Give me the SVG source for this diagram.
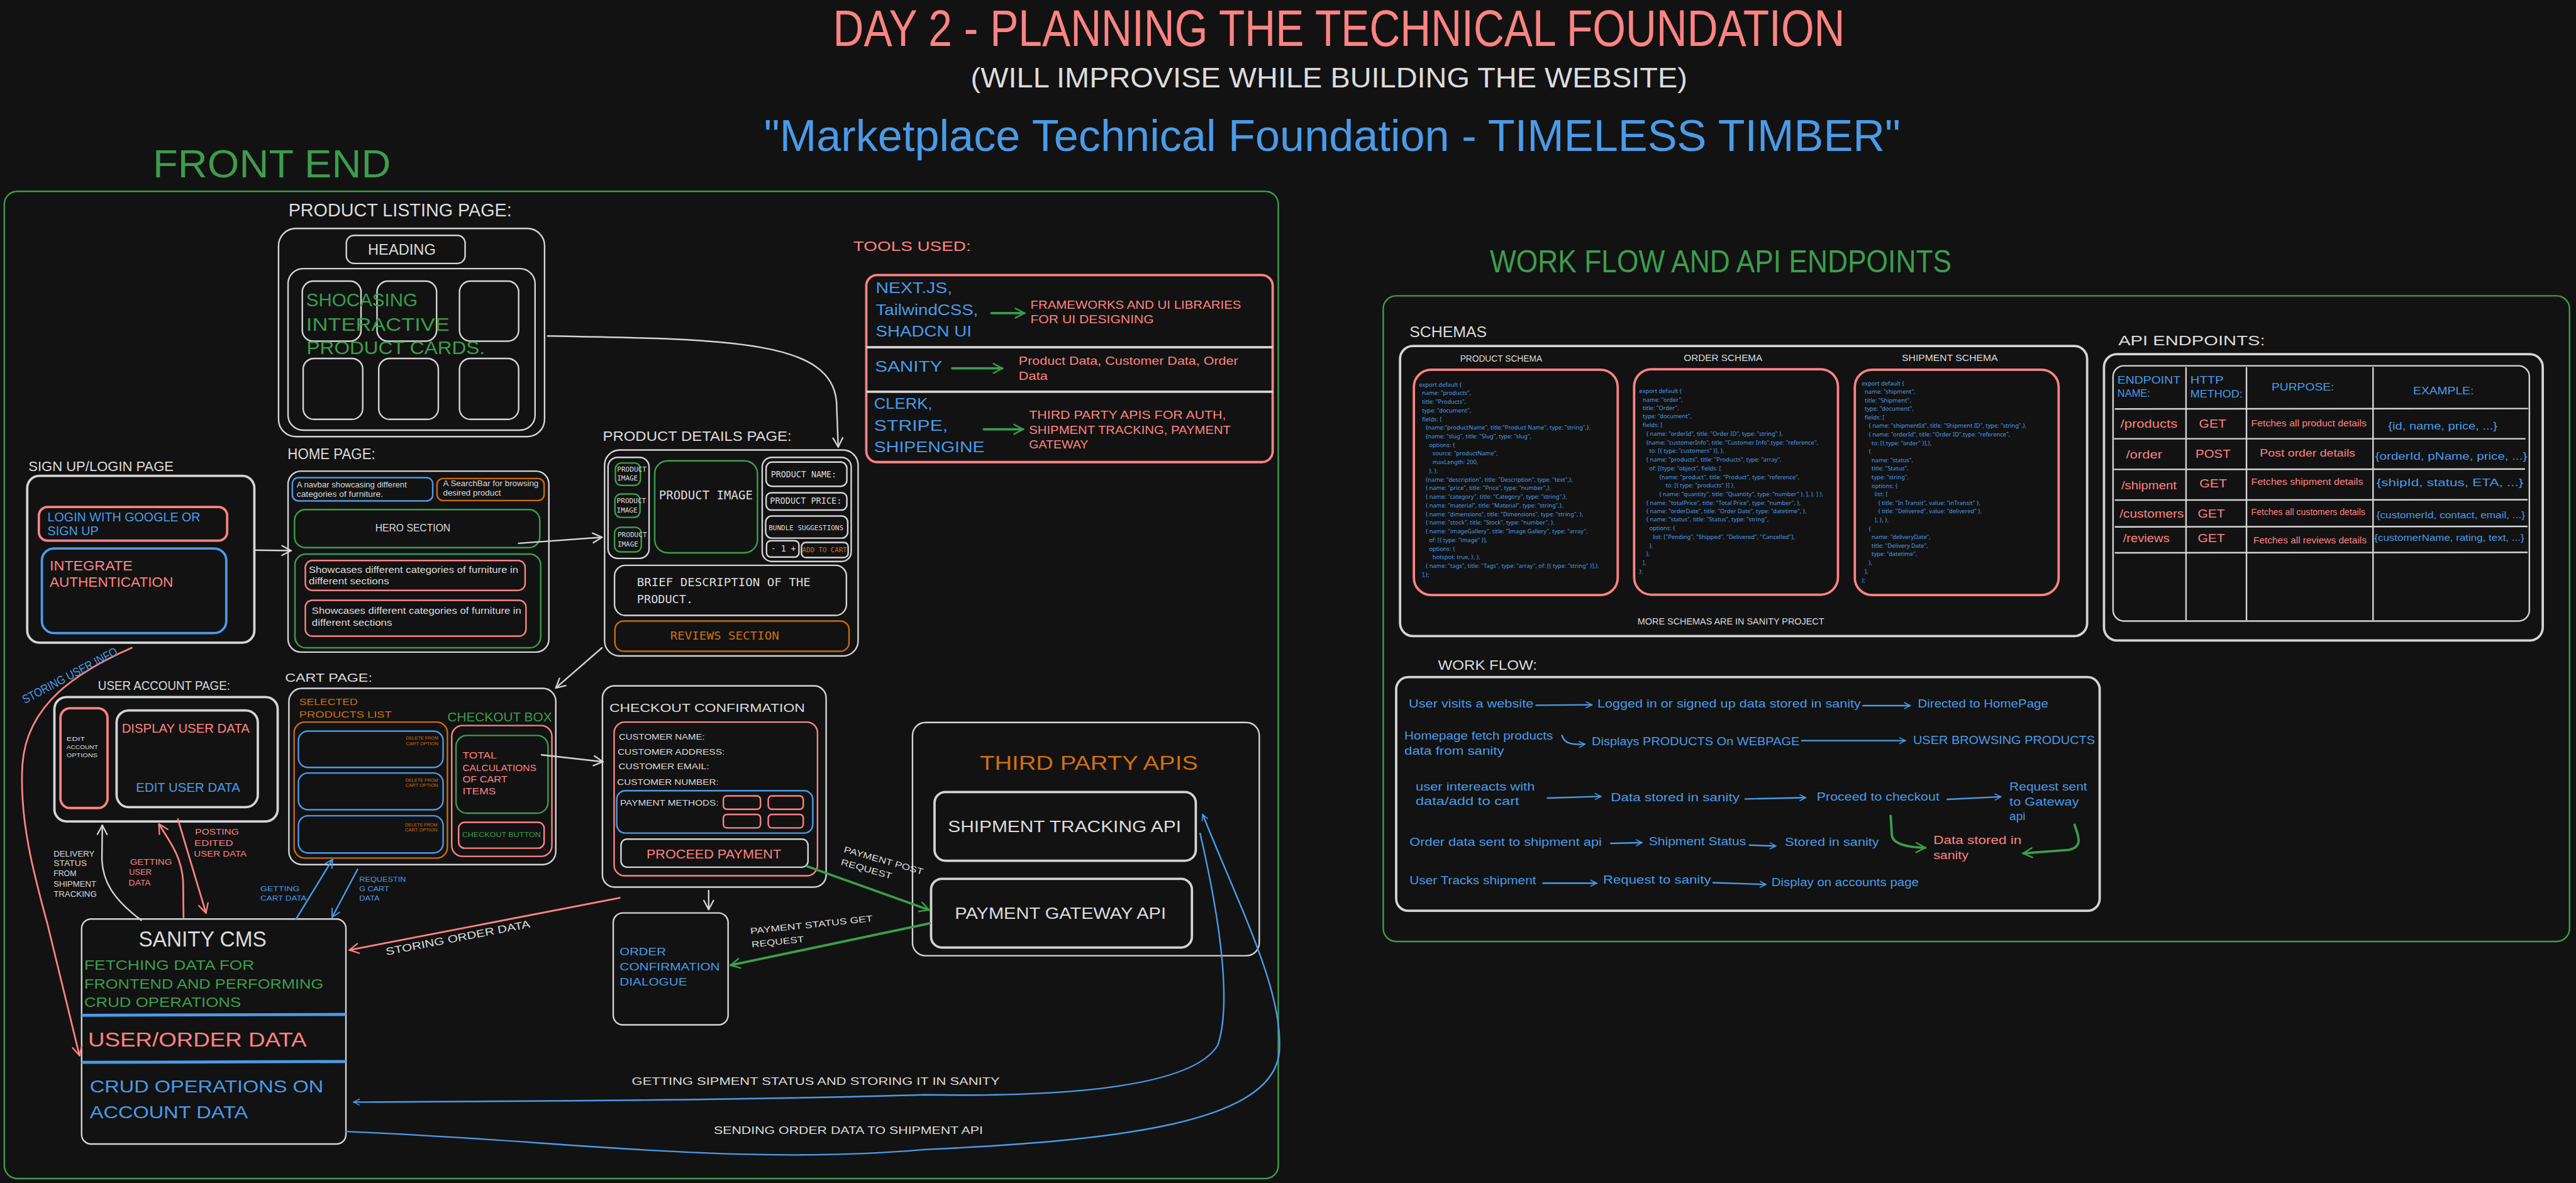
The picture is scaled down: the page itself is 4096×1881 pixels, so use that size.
<svg xmlns="http://www.w3.org/2000/svg" width="4096" height="1881" viewBox="0 0 4096 1881">
<style>
text { font-family: "Liberation Sans", "DejaVu Sans", sans-serif; }
.mo { font-family: "DejaVu Sans Mono", "Liberation Mono", monospace; }
.cd { font-family: "Noto Sans", "Liberation Sans", sans-serif; font-size: 13.5px; fill: #4a9be8; }
.w { fill: #dcdcdc; } .r { fill: #ff8383; } .b { fill: #4a9be8; } .g { fill: #3c9d4d; } .o { fill: #d0700f; }
.sw { fill: none; stroke: #d4d4d4; stroke-width: 3.5; }
.sr { fill: none; stroke: #ff8383; stroke-width: 3.5; }
.sb { fill: none; stroke: #4a9be8; stroke-width: 3.5; }
.sg { fill: none; stroke: #3c9d4d; stroke-width: 3.5; }
.so { fill: none; stroke: #cc6a0e; stroke-width: 3.5; }
.k { stroke-width: 5.5; }
.cw { fill: none; stroke: #d4d4d4; stroke-width: 3.5; stroke-linecap: round; stroke-linejoin: round; }
.cr { fill: none; stroke: #ff8383; stroke-width: 4; stroke-linecap: round; stroke-linejoin: round; }
.cb { fill: none; stroke: #4a9be8; stroke-width: 3.5; stroke-linecap: round; stroke-linejoin: round; }
.cg { fill: none; stroke: #3c9d4d; stroke-width: 5.5; stroke-linecap: round; stroke-linejoin: round; }
</style>
<defs>
<marker id="mw" viewBox="0 0 10 10" refX="8.5" refY="5" markerWidth="8" markerHeight="8" orient="auto" markerUnits="strokeWidth"><path d="M1,1 L8.5,5 L1,9" fill="none" stroke="#d4d4d4" stroke-width="1.2" stroke-linecap="round" stroke-linejoin="round"/></marker>
<marker id="mr" viewBox="0 0 10 10" refX="8.5" refY="5" markerWidth="7" markerHeight="7" orient="auto" markerUnits="strokeWidth"><path d="M1,1 L8.5,5 L1,9" fill="none" stroke="#ff8383" stroke-width="1.2" stroke-linecap="round" stroke-linejoin="round"/></marker>
<marker id="mb" viewBox="0 0 10 10" refX="8.5" refY="5" markerWidth="7" markerHeight="7" orient="auto" markerUnits="strokeWidth"><path d="M1,1 L8.5,5 L1,9" fill="none" stroke="#4a9be8" stroke-width="1.2" stroke-linecap="round" stroke-linejoin="round"/></marker>
<marker id="mbt" viewBox="0 0 10 10" refX="8.5" refY="5" markerWidth="5" markerHeight="5" orient="auto" markerUnits="strokeWidth"><path d="M1,1 L8.5,5 L1,9" fill="none" stroke="#4a9be8" stroke-width="1.3" stroke-linecap="round" stroke-linejoin="round"/></marker>
<marker id="mg" viewBox="0 0 10 10" refX="8.5" refY="5" markerWidth="5" markerHeight="5" orient="auto" markerUnits="strokeWidth"><path d="M1,1 L8.5,5 L1,9" fill="none" stroke="#3c9d4d" stroke-width="1.3" stroke-linecap="round" stroke-linejoin="round"/></marker>
</defs>
<rect x="0" y="0" width="4096" height="1881" fill="#121212"/>
<g transform="scale(0.686672)">

<g id="header">
<text class="r" x="1929" y="106" font-size="118" textLength="2343" lengthAdjust="spacingAndGlyphs">DAY 2 - PLANNING THE TECHNICAL FOUNDATION</text>
<text class="w" x="2248" y="202" font-size="64" textLength="1659" lengthAdjust="spacingAndGlyphs">(WILL IMPROVISE WHILE BUILDING THE WEBSITE)</text>
<text class="b" x="1769" y="350" font-size="102" textLength="2632" lengthAdjust="spacingAndGlyphs">"Marketplace Technical Foundation - TIMELESS TIMBER"</text>
</g>

<g id="front-end">
<rect class="sg" x="10" y="443" width="2950" height="2286" rx="30" stroke-width="3"/>
<text class="g" x="354" y="411" font-size="92" textLength="551" lengthAdjust="spacingAndGlyphs">FRONT END</text>
</g>

<g id="product-listing-page">
<text class="w" x="668" y="501" font-size="42" textLength="517" lengthAdjust="spacingAndGlyphs">PRODUCT LISTING PAGE:</text>
<rect class="sw" x="645" y="529" width="616" height="482" rx="40"/>
<rect class="sw" x="802" y="545" width="275" height="65" rx="18"/>
<text class="w" x="852" y="590" font-size="34" textLength="157" lengthAdjust="spacingAndGlyphs">HEADING</text>
<rect class="sw" x="667" y="622" width="572" height="374" rx="35"/>
<rect class="sw" x="700" y="651" width="136" height="139" rx="25"/>
<rect class="sw" x="873" y="651" width="138" height="139" rx="25"/>
<rect class="sw" x="1064" y="651" width="137" height="139" rx="25"/>
<rect class="sw" x="702" y="830" width="138" height="141" rx="25"/>
<rect class="sw" x="877" y="830" width="138" height="141" rx="25"/>
<rect class="sw" x="1064" y="830" width="137" height="141" rx="25"/>
<text class="g" x="709" y="709" font-size="44" textLength="258" lengthAdjust="spacingAndGlyphs">SHOCASING</text>
<text class="g" x="709" y="766" font-size="44" textLength="332" lengthAdjust="spacingAndGlyphs">INTERACTIVE</text>
<text class="g" x="710" y="820" font-size="44" textLength="413" lengthAdjust="spacingAndGlyphs">PRODUCT CARDS.</text>
</g>

<g id="home-page">
<text class="w" x="666" y="1063" font-size="36" textLength="203" lengthAdjust="spacingAndGlyphs">HOME PAGE:</text>
<rect class="sw" x="667" y="1091" width="604" height="419" rx="30"/>
<rect class="sb" x="677" y="1106" width="325" height="54" rx="14"/>
<text class="w" x="687" y="1128" font-size="19" textLength="255" lengthAdjust="spacingAndGlyphs">A navbar showcasing different</text>
<text class="w" x="687" y="1150" font-size="19" textLength="200" lengthAdjust="spacingAndGlyphs">categories of furniture.</text>
<rect class="so" x="1012" y="1108" width="248" height="51" rx="14"/>
<text class="w" x="1026" y="1126" font-size="19" textLength="221" lengthAdjust="spacingAndGlyphs">A SearchBar for browsing</text>
<text class="w" x="1026" y="1148" font-size="19" textLength="134" lengthAdjust="spacingAndGlyphs">desired product</text>
<rect class="sg" x="682" y="1180" width="568" height="88" rx="25"/>
<text class="w" x="869" y="1230" font-size="23" textLength="174" lengthAdjust="spacingAndGlyphs">HERO SECTION</text>
<rect class="sg" x="683" y="1283" width="569" height="217" rx="25"/>
<rect class="sr" x="707" y="1298" width="509" height="69" rx="16"/>
<text class="w" x="715" y="1326" font-size="22" textLength="485" lengthAdjust="spacingAndGlyphs">Showcases different categories of furniture in</text>
<text class="w" x="715" y="1353" font-size="22" textLength="186" lengthAdjust="spacingAndGlyphs">different sections</text>
<rect class="sr" x="707" y="1390" width="511" height="83" rx="16"/>
<text class="w" x="722" y="1422" font-size="22" textLength="485" lengthAdjust="spacingAndGlyphs">Showcases different categories of furniture in</text>
<text class="w" x="722" y="1449" font-size="22" textLength="186" lengthAdjust="spacingAndGlyphs">different sections</text>
</g>

<g id="product-details-page">
<text class="w" x="1396" y="1021" font-size="32" textLength="437" lengthAdjust="spacingAndGlyphs">PRODUCT DETAILS PAGE:</text>
<rect class="sw" x="1400" y="1042" width="587" height="477" rx="35"/>
<rect class="sw" x="1408" y="1059" width="95" height="234" rx="22"/>
<rect class="sg" x="1425" y="1072" width="58" height="52" rx="14"/>
<rect class="sg" x="1424" y="1144" width="58" height="54" rx="14"/>
<rect class="sg" x="1423" y="1221" width="62" height="57" rx="14"/>
<text class="w mo" x="1429" y="1092" font-size="16" textLength="68" lengthAdjust="spacingAndGlyphs">PRODUCT</text>
<text class="w mo" x="1429" y="1113" font-size="16" textLength="48" lengthAdjust="spacingAndGlyphs">IMAGE</text>
<text class="w mo" x="1428" y="1165" font-size="16" textLength="68" lengthAdjust="spacingAndGlyphs">PRODUCT</text>
<text class="w mo" x="1428" y="1187" font-size="16" textLength="48" lengthAdjust="spacingAndGlyphs">IMAGE</text>
<text class="w mo" x="1430" y="1243" font-size="16" textLength="68" lengthAdjust="spacingAndGlyphs">PRODUCT</text>
<text class="w mo" x="1430" y="1265" font-size="16" textLength="48" lengthAdjust="spacingAndGlyphs">IMAGE</text>
<rect class="sg" x="1516" y="1067" width="238" height="213" rx="30"/>
<text class="w mo" x="1526" y="1156" font-size="27" textLength="217" lengthAdjust="spacingAndGlyphs">PRODUCT IMAGE</text>
<rect class="sw" x="1765" y="1059" width="206" height="241" rx="22"/>
<rect class="sw" x="1774" y="1070" width="187" height="56" rx="14"/>
<text class="w mo" x="1785" y="1105" font-size="20" textLength="152" lengthAdjust="spacingAndGlyphs">PRODUCT NAME:</text>
<rect class="sw" x="1774" y="1141" width="187" height="40" rx="12"/>
<text class="w mo" x="1783" y="1167" font-size="20" textLength="166" lengthAdjust="spacingAndGlyphs">PRODUCT PRICE:</text>
<rect class="sw" x="1773" y="1195" width="190" height="51" rx="14"/>
<text class="w mo" x="1780" y="1228" font-size="16" textLength="173" lengthAdjust="spacingAndGlyphs">BUNDLE SUGGESTIONS</text>
<rect class="sw" x="1775" y="1252" width="75" height="38" rx="10"/>
<text class="w mo" x="1785" y="1277" font-size="20" textLength="58" lengthAdjust="spacingAndGlyphs">- 1 +</text>
<rect class="sw" x="1856" y="1256" width="108" height="35" rx="10"/>
<text class="o mo" x="1858" y="1278" font-size="16" textLength="103" lengthAdjust="spacingAndGlyphs">ADD TO CART</text>
<rect class="sw" x="1423" y="1309" width="537" height="116" rx="25"/>
<text class="w mo" x="1475" y="1357" font-size="26" textLength="402" lengthAdjust="spacingAndGlyphs">BRIEF DESCRIPTION OF THE</text>
<text class="w mo" x="1475" y="1396" font-size="26" textLength="130" lengthAdjust="spacingAndGlyphs">PRODUCT.</text>
<rect class="so" x="1424" y="1438" width="542" height="70" rx="20"/>
<text class="o mo" x="1552" y="1481" font-size="26" textLength="252" lengthAdjust="spacingAndGlyphs">REVIEWS SECTION</text>
</g>

<g id="tools-used">
<text class="r" x="1976" y="581" font-size="32" textLength="272" lengthAdjust="spacingAndGlyphs">TOOLS USED:</text>
<rect class="sr k" x="2006" y="637" width="941" height="433" rx="25"/>
<line class="sw k" x1="2006" y1="804" x2="2947" y2="804"/>
<line class="sw k" x1="2006" y1="907" x2="2947" y2="907"/>
<text class="b" x="2028" y="679" font-size="34" textLength="177" lengthAdjust="spacingAndGlyphs">NEXT.JS,</text>
<text class="b" x="2028" y="729" font-size="34" textLength="237" lengthAdjust="spacingAndGlyphs">TailwindCSS,</text>
<text class="b" x="2028" y="779" font-size="34" textLength="222" lengthAdjust="spacingAndGlyphs">SHADCN UI</text>
<text class="r" x="2386" y="715" font-size="28" textLength="488" lengthAdjust="spacingAndGlyphs">FRAMEWORKS AND UI LIBRARIES</text>
<text class="r" x="2386" y="748" font-size="28" textLength="286" lengthAdjust="spacingAndGlyphs">FOR UI DESIGNING</text>
<text class="b" x="2026" y="861" font-size="34" textLength="156" lengthAdjust="spacingAndGlyphs">SANITY</text>
<text class="r" x="2359" y="845" font-size="27" textLength="508" lengthAdjust="spacingAndGlyphs">Product Data, Customer Data, Order</text>
<text class="r" x="2359" y="879" font-size="27" textLength="67" lengthAdjust="spacingAndGlyphs">Data</text>
<text class="b" x="2024" y="947" font-size="34" textLength="135" lengthAdjust="spacingAndGlyphs">CLERK,</text>
<text class="b" x="2024" y="997" font-size="34" textLength="171" lengthAdjust="spacingAndGlyphs">STRIPE,</text>
<text class="b" x="2024" y="1047" font-size="34" textLength="256" lengthAdjust="spacingAndGlyphs">SHIPENGINE</text>
<text class="r" x="2383" y="970" font-size="28" textLength="456" lengthAdjust="spacingAndGlyphs">THIRD PARTY APIS FOR AUTH,</text>
<text class="r" x="2383" y="1005" font-size="28" textLength="467" lengthAdjust="spacingAndGlyphs">SHIPMENT TRACKING, PAYMENT</text>
<text class="r" x="2383" y="1039" font-size="28" textLength="137" lengthAdjust="spacingAndGlyphs">GATEWAY</text>
</g>

<g id="sign-up-login-page">
<text class="w" x="66" y="1091" font-size="32" textLength="336" lengthAdjust="spacingAndGlyphs">SIGN UP/LOGIN PAGE</text>
<rect class="sw k" x="63" y="1102" width="526" height="386" rx="28"/>
<rect class="sr k" x="90" y="1174" width="436" height="78" rx="20"/>
<text class="b" x="110" y="1207" font-size="29" textLength="354" lengthAdjust="spacingAndGlyphs">LOGIN WITH GOOGLE OR</text>
<text class="b" x="110" y="1240" font-size="29" textLength="118" lengthAdjust="spacingAndGlyphs">SIGN UP</text>
<rect class="sb k" x="97" y="1270" width="427" height="196" rx="28"/>
<text class="r" x="115" y="1321" font-size="32" textLength="192" lengthAdjust="spacingAndGlyphs">INTEGRATE</text>
<text class="r" x="115" y="1359" font-size="32" textLength="286" lengthAdjust="spacingAndGlyphs">AUTHENTICATION</text>
</g>

<g id="user-account-page">
<text class="w" x="227" y="1597" font-size="30" textLength="306" lengthAdjust="spacingAndGlyphs">USER ACCOUNT PAGE:</text>
<rect class="sw k" x="126" y="1614" width="517" height="288" rx="28"/>
<rect class="sr k" x="140" y="1640" width="109" height="231" rx="22"/>
<text class="w" x="154" y="1716" font-size="14" textLength="43" lengthAdjust="spacingAndGlyphs">EDIT</text>
<text class="w" x="154" y="1734" font-size="14" textLength="73" lengthAdjust="spacingAndGlyphs">ACCOUNT</text>
<text class="w" x="154" y="1753" font-size="14" textLength="72" lengthAdjust="spacingAndGlyphs">OPTIONS</text>
<rect class="sw k" x="270" y="1645" width="327" height="224" rx="28"/>
<text class="r" x="282" y="1697" font-size="30" textLength="296" lengthAdjust="spacingAndGlyphs">DISPLAY USER DATA</text>
<text class="b" x="315" y="1834" font-size="30" textLength="241" lengthAdjust="spacingAndGlyphs">EDIT USER DATA</text>
</g>

<g id="cart-page">
<text class="w" x="660" y="1579" font-size="28" textLength="202" lengthAdjust="spacingAndGlyphs">CART PAGE:</text>
<rect class="sw" x="669" y="1594" width="618" height="408" rx="30"/>
<text class="o" x="693" y="1632" font-size="22" textLength="135" lengthAdjust="spacingAndGlyphs">SELECTED</text>
<text class="o" x="693" y="1662" font-size="22" textLength="214" lengthAdjust="spacingAndGlyphs">PRODUCTS LIST</text>
<rect class="so" x="681" y="1672" width="355" height="315" rx="25"/>
<rect class="sb" x="691" y="1693" width="335" height="84" rx="22"/>
<rect class="sb" x="691" y="1790" width="335" height="85" rx="22"/>
<rect class="sb" x="691" y="1889" width="335" height="86" rx="22"/>
<text class="o" x="940" y="1712" font-size="10" textLength="75" lengthAdjust="spacingAndGlyphs">DELETE FROM</text>
<text class="o" x="940" y="1725" font-size="10" textLength="75" lengthAdjust="spacingAndGlyphs">CART OPTION</text>
<text class="o" x="939" y="1810" font-size="10" textLength="75" lengthAdjust="spacingAndGlyphs">DELETE FROM</text>
<text class="o" x="939" y="1822" font-size="10" textLength="75" lengthAdjust="spacingAndGlyphs">CART OPTION</text>
<text class="o" x="938" y="1913" font-size="10" textLength="75" lengthAdjust="spacingAndGlyphs">DELETE FROM</text>
<text class="o" x="938" y="1925" font-size="10" textLength="75" lengthAdjust="spacingAndGlyphs">CART OPTION</text>
<text class="g" x="1036" y="1670" font-size="30" textLength="242" lengthAdjust="spacingAndGlyphs">CHECKOUT BOX</text>
<rect class="sr" x="1046" y="1680" width="232" height="303" rx="25"/>
<rect class="sg" x="1056" y="1703" width="213" height="180" rx="25"/>
<text class="r" x="1071" y="1757" font-size="21" textLength="79" lengthAdjust="spacingAndGlyphs">TOTAL</text>
<text class="r" x="1071" y="1785" font-size="21" textLength="171" lengthAdjust="spacingAndGlyphs">CALCULATIONS</text>
<text class="r" x="1071" y="1812" font-size="21" textLength="104" lengthAdjust="spacingAndGlyphs">OF CART</text>
<text class="r" x="1071" y="1839" font-size="21" textLength="77" lengthAdjust="spacingAndGlyphs">ITEMS</text>
<rect class="sr" x="1062" y="1904" width="198" height="60" rx="14"/>
<text class="g" x="1070" y="1939" font-size="16" textLength="182" lengthAdjust="spacingAndGlyphs">CHECKOUT BUTTON</text>
</g>

<g id="checkout-confirmation">
<rect class="sw" x="1395" y="1588" width="518" height="466" rx="28"/>
<text class="w" x="1411" y="1649" font-size="28" textLength="453" lengthAdjust="spacingAndGlyphs">CHECKOUT CONFIRMATION</text>
<rect class="sr" x="1422" y="1672" width="471" height="356" rx="25"/>
<text class="w" x="1433" y="1713" font-size="19" textLength="199" lengthAdjust="spacingAndGlyphs">CUSTOMER NAME:</text>
<text class="w" x="1430" y="1747" font-size="19" textLength="248" lengthAdjust="spacingAndGlyphs">CUSTOMER ADDRESS:</text>
<text class="w" x="1432" y="1781" font-size="19" textLength="210" lengthAdjust="spacingAndGlyphs">CUSTOMER EMAIL:</text>
<text class="w" x="1429" y="1818" font-size="19" textLength="235" lengthAdjust="spacingAndGlyphs">CUSTOMER NUMBER:</text>
<rect class="sb" x="1428" y="1831" width="454" height="98" rx="20"/>
<text class="w" x="1436" y="1865" font-size="19" textLength="228" lengthAdjust="spacingAndGlyphs">PAYMENT METHODS:</text>
<rect class="sr" x="1675" y="1843" width="86" height="31" rx="8"/>
<rect class="sr" x="1779" y="1843" width="81" height="31" rx="8"/>
<rect class="sr" x="1675" y="1886" width="86" height="31" rx="8"/>
<rect class="sr" x="1779" y="1886" width="81" height="31" rx="8"/>
<rect class="sw" x="1438" y="1943" width="433" height="65" rx="14"/>
<text class="r" x="1497" y="1988" font-size="30" textLength="312" lengthAdjust="spacingAndGlyphs">PROCEED PAYMENT</text>
</g>

<g id="order-confirmation-dialogue">
<rect class="sw" x="1420" y="2114" width="266" height="259" rx="22"/>
<text class="b" x="1435" y="2212" font-size="25" textLength="107" lengthAdjust="spacingAndGlyphs">ORDER</text>
<text class="b" x="1435" y="2247" font-size="25" textLength="232" lengthAdjust="spacingAndGlyphs">CONFIRMATION</text>
<text class="b" x="1435" y="2282" font-size="25" textLength="156" lengthAdjust="spacingAndGlyphs">DIALOGUE</text>
</g>

<g id="third-party-apis">
<rect class="sw" x="2113" y="1673" width="803" height="540" rx="30"/>
<text class="o" x="2269" y="1783" font-size="46" textLength="505" lengthAdjust="spacingAndGlyphs">THIRD PARTY APIS</text>
</g>
<g id="shipment-tracking-api">
<rect class="sw k" x="2164" y="1834" width="605" height="159" rx="25"/>
<text class="w" x="2195" y="1927" font-size="37" textLength="540" lengthAdjust="spacingAndGlyphs">SHIPMENT TRACKING API</text>
</g>
<g id="payment-gateway-api">
<rect class="sw k" x="2156" y="2035" width="604" height="159" rx="25"/>
<text class="w" x="2211" y="2127" font-size="37" textLength="489" lengthAdjust="spacingAndGlyphs">PAYMENT GATEWAY API</text>
</g>

<g id="sanity-cms">
<rect class="sw" x="189" y="2128" width="612" height="521" rx="22"/>
<text class="w" x="321" y="2192" font-size="50" textLength="296" lengthAdjust="spacingAndGlyphs">SANITY CMS</text>
<text class="g" x="195" y="2245" font-size="32" textLength="394" lengthAdjust="spacingAndGlyphs">FETCHING DATA FOR</text>
<text class="g" x="195" y="2289" font-size="32" textLength="554" lengthAdjust="spacingAndGlyphs">FRONTEND AND PERFORMING</text>
<text class="g" x="195" y="2332" font-size="32" textLength="363" lengthAdjust="spacingAndGlyphs">CRUD OPERATIONS</text>
<line x1="189" y1="2351" x2="801" y2="2349" stroke="#4a9be8" stroke-width="7"/>
<text class="r" x="204" y="2423" font-size="46" textLength="506" lengthAdjust="spacingAndGlyphs">USER/ORDER DATA</text>
<line x1="189" y1="2460" x2="801" y2="2458" stroke="#4a9be8" stroke-width="7"/>
<text class="b" x="208" y="2530" font-size="40" textLength="541" lengthAdjust="spacingAndGlyphs">CRUD OPERATIONS ON</text>
<text class="b" x="208" y="2589" font-size="40" textLength="366" lengthAdjust="spacingAndGlyphs">ACCOUNT DATA</text>
</g>

<g id="workflow-api-section">
<rect class="sg" x="3203" y="685" width="2747" height="1495" rx="30" stroke-width="3"/>
<text class="g" x="3450" y="631" font-size="72" textLength="1069" lengthAdjust="spacingAndGlyphs">WORK FLOW AND API ENDPOINTS</text>
</g>

<g id="schemas">
<text class="w" x="3264" y="780" font-size="34" textLength="179" lengthAdjust="spacingAndGlyphs">SCHEMAS</text>
<rect class="sw k" x="3242" y="801" width="1591" height="672" rx="30"/>
<text class="w" x="3381" y="838" font-size="20" textLength="190" lengthAdjust="spacingAndGlyphs">PRODUCT SCHEMA</text>
<text class="w" x="3899" y="836" font-size="20" textLength="182" lengthAdjust="spacingAndGlyphs">ORDER SCHEMA</text>
<text class="w" x="4404" y="836" font-size="20" textLength="222" lengthAdjust="spacingAndGlyphs">SHIPMENT SCHEMA</text>
<text class="w" x="3792" y="1446" font-size="20" textLength="432" lengthAdjust="spacingAndGlyphs">MORE SCHEMAS ARE IN SANITY PROJECT</text>
</g>
<g id="product-schema">
<rect class="sr k" x="3274" y="856" width="472" height="522" rx="40"/>
<text class="cd">
<tspan x="3286" y="895">export default {</tspan>
<tspan x="3293" y="915">name: "products",</tspan>
<tspan x="3293" y="935">title: "Products",</tspan>
<tspan x="3293" y="955">type: "document",</tspan>
<tspan x="3293" y="975">fields: [</tspan>
<tspan x="3301" y="995">{name:"productName", title:"Product Name",  type: "string",},</tspan>
<tspan x="3301" y="1015">{name: "slug", title: "Slug", type: "slug",</tspan>
<tspan x="3309" y="1035">options: {</tspan>
<tspan x="3317" y="1055">source: "productName",</tspan>
<tspan x="3317" y="1075">maxLength: 200,</tspan>
<tspan x="3309" y="1095">}, },</tspan>
<tspan x="3301" y="1115">{name: "description", title: "Description", type: "text",},</tspan>
<tspan x="3301" y="1135">{ name: "price",  title: "Price",  type: "number",},</tspan>
<tspan x="3301" y="1155">{ name: "category",  title: "Category", type: "string",},</tspan>
<tspan x="3301" y="1175">{ name: "material",  title: "Material", type: "string",},</tspan>
<tspan x="3301" y="1195">{ name: "dimensions",  title: "Dimensions", type: "string", },</tspan>
<tspan x="3301" y="1215">{ name: "stock", title: "Stock", type: "number",  },</tspan>
<tspan x="3301" y="1235">{ name: "imageGallery",  title: "Image Gallery", type: "array",</tspan>
<tspan x="3309" y="1255">of: [{ type: "image" }],</tspan>
<tspan x="3309" y="1275">options: {</tspan>
<tspan x="3317" y="1295">hotspot: true, }, },</tspan>
<tspan x="3301" y="1315">{ name: "tags", title: "Tags", type: "array", of: [{ type: "string" }],},</tspan>
<tspan x="3293" y="1335">],};</tspan>
</text>
</g>
<g id="order-schema">
<rect class="sr k" x="3784" y="855" width="472" height="522" rx="40"/>
<text class="cd">
<tspan x="3796" y="910">export default {</tspan>
<tspan x="3804" y="930">name: "order",</tspan>
<tspan x="3804" y="950">title: "Order",</tspan>
<tspan x="3804" y="969">type: "document",</tspan>
<tspan x="3804" y="989">fields: [</tspan>
<tspan x="3812" y="1009">{ name: "orderId", title: "Order ID",  type: "string" },</tspan>
<tspan x="3812" y="1029">{name: "customerInfo",  title: "Customer Info",type: "reference",</tspan>
<tspan x="3819" y="1049">to: [{ type: "customers" }], },</tspan>
<tspan x="3812" y="1069">{ name: "products", title: "Products", type: "array",</tspan>
<tspan x="3819" y="1089">of: [{type: "object", fields: [</tspan>
<tspan x="3842" y="1109">{name: "product", title: "Product", type: "reference",</tspan>
<tspan x="3857" y="1129">to: [{ type: "products" }]  },</tspan>
<tspan x="3842" y="1149">{ name: "quantity", title: "Quantity", type: "number" }, ], }, ] },</tspan>
<tspan x="3812" y="1169">{ name: "totalPrice", title: "Total Price",  type: "number",  },</tspan>
<tspan x="3812" y="1189">{ name: "orderDate", title: "Order Date", type: "datetime", },</tspan>
<tspan x="3812" y="1208">{ name: "status", title: "Status", type: "string",</tspan>
<tspan x="3819" y="1228">options: {</tspan>
<tspan x="3827" y="1248">list: ["Pending", "Shipped", "Delivered", "Cancelled"],</tspan>
<tspan x="3819" y="1268">},</tspan>
<tspan x="3812" y="1288">},</tspan>
<tspan x="3804" y="1308">],</tspan>
<tspan x="3796" y="1328">};</tspan>
</text>
</g>
<g id="shipment-schema">
<rect class="sr k" x="4295" y="856" width="472" height="522" rx="40"/>
<text class="cd">
<tspan x="4311" y="892">export default {</tspan>
<tspan x="4318" y="912">name: "shipment",</tspan>
<tspan x="4318" y="932">title: "Shipment",</tspan>
<tspan x="4318" y="951">type: "document",</tspan>
<tspan x="4318" y="971">fields: [</tspan>
<tspan x="4327" y="991">{ name: "shipmentId", title: "Shipment ID", type: "string",},</tspan>
<tspan x="4327" y="1011">{ name: "orderId", title: "Order ID",type: "reference",</tspan>
<tspan x="4334" y="1031">to: [{ type: "order" }],},</tspan>
<tspan x="4327" y="1050">{</tspan>
<tspan x="4334" y="1070">name: "status",</tspan>
<tspan x="4334" y="1090">title: "Status",</tspan>
<tspan x="4334" y="1110">type: "string",</tspan>
<tspan x="4334" y="1130">options: {</tspan>
<tspan x="4341" y="1149">list: [</tspan>
<tspan x="4349" y="1169">{ title: "In Transit", value: "inTransit" },</tspan>
<tspan x="4349" y="1189">{ title: "Delivered", value: "delivered" },</tspan>
<tspan x="4341" y="1209">], }, },</tspan>
<tspan x="4327" y="1229">{</tspan>
<tspan x="4334" y="1248">name: "deliveryDate",</tspan>
<tspan x="4334" y="1268">title: "Delivery Date",</tspan>
<tspan x="4334" y="1288">type: "datetime",</tspan>
<tspan x="4327" y="1308">},</tspan>
<tspan x="4318" y="1328">],</tspan>
<tspan x="4311" y="1348">};</tspan>
</text>
</g>

<g id="api-endpoints">
<text class="w" x="4905" y="799" font-size="32" textLength="340" lengthAdjust="spacingAndGlyphs">API ENDPOINTS:</text>
<rect class="sw k" x="4872" y="820" width="1016" height="663" rx="30"/>
<rect class="sw" x="4893" y="847" width="964" height="591" rx="25" stroke-width="4.5"/>
<g class="sw" stroke-width="4.5">
<line x1="5062" y1="850" x2="5062" y2="1436"/>
<line x1="5202" y1="850" x2="5202" y2="1436"/>
<line x1="5495" y1="850" x2="5495" y2="1436"/>
<line x1="4897" y1="947" x2="5854" y2="946"/>
<line x1="4895" y1="1016" x2="5848" y2="1016"/>
<line x1="4895" y1="1087" x2="5847" y2="1086"/>
<line x1="4897" y1="1158" x2="5853" y2="1157"/>
<line x1="4897" y1="1220" x2="5853" y2="1219"/>
<line x1="4897" y1="1280" x2="5853" y2="1279"/>
</g>
<text class="b" x="4903" y="888" font-size="24" textLength="146" lengthAdjust="spacingAndGlyphs">ENDPOINT</text>
<text class="b" x="4903" y="919" font-size="24" textLength="76" lengthAdjust="spacingAndGlyphs">NAME:</text>
<text class="b" x="5072" y="888" font-size="24" textLength="77" lengthAdjust="spacingAndGlyphs">HTTP</text>
<text class="b" x="5072" y="920" font-size="24" textLength="121" lengthAdjust="spacingAndGlyphs">METHOD:</text>
<text class="b" x="5260" y="905" font-size="25" textLength="145" lengthAdjust="spacingAndGlyphs">PURPOSE:</text>
<text class="b" x="5588" y="913" font-size="25" textLength="140" lengthAdjust="spacingAndGlyphs">EXAMPLE:</text>
<text class="r" x="4910" y="990" font-size="28" textLength="132" lengthAdjust="spacingAndGlyphs">/products</text>
<text class="r" x="5092" y="991" font-size="28" textLength="63" lengthAdjust="spacingAndGlyphs">GET</text>
<text class="r" x="5213" y="988" font-size="20" textLength="267" lengthAdjust="spacingAndGlyphs">Fetches all product details</text>
<text class="b" x="5530" y="994" font-size="24" textLength="253" lengthAdjust="spacingAndGlyphs">{id, name, price, ...}</text>
<text class="r" x="4923" y="1062" font-size="28" textLength="84" lengthAdjust="spacingAndGlyphs">/order</text>
<text class="r" x="5084" y="1060" font-size="28" textLength="81" lengthAdjust="spacingAndGlyphs">POST</text>
<text class="r" x="5233" y="1058" font-size="24" textLength="221" lengthAdjust="spacingAndGlyphs">Post order details</text>
<text class="b" x="5500" y="1065" font-size="24" textLength="352" lengthAdjust="spacingAndGlyphs">{orderId, pName, price, ...}</text>
<text class="r" x="4912" y="1133" font-size="28" textLength="128" lengthAdjust="spacingAndGlyphs">/shipment</text>
<text class="r" x="5093" y="1128" font-size="28" textLength="64" lengthAdjust="spacingAndGlyphs">GET</text>
<text class="r" x="5213" y="1123" font-size="21" textLength="259" lengthAdjust="spacingAndGlyphs">Fetches shipment details</text>
<text class="b" x="5503" y="1125" font-size="25" textLength="340" lengthAdjust="spacingAndGlyphs">{shipId, status, ETA, ...}</text>
<text class="r" x="4908" y="1198" font-size="28" textLength="149" lengthAdjust="spacingAndGlyphs">/customers</text>
<text class="r" x="5089" y="1198" font-size="28" textLength="63" lengthAdjust="spacingAndGlyphs">GET</text>
<text class="r" x="5213" y="1193" font-size="20" textLength="264" lengthAdjust="spacingAndGlyphs">Fetches all customers details</text>
<text class="b" x="5503" y="1200" font-size="20" textLength="344" lengthAdjust="spacingAndGlyphs">{customerId, contact, email, ...}</text>
<text class="r" x="4916" y="1256" font-size="28" textLength="108" lengthAdjust="spacingAndGlyphs">/reviews</text>
<text class="r" x="5089" y="1256" font-size="28" textLength="63" lengthAdjust="spacingAndGlyphs">GET</text>
<text class="r" x="5218" y="1258" font-size="20" textLength="262" lengthAdjust="spacingAndGlyphs">Fetches all reviews details</text>
<text class="b" x="5498" y="1253" font-size="20" textLength="347" lengthAdjust="spacingAndGlyphs">{customerName, rating, text, ...}</text>
</g>

<g id="work-flow">
<text class="w" x="3330" y="1551" font-size="32" textLength="229" lengthAdjust="spacingAndGlyphs">WORK FLOW:</text>
<rect class="sw k" x="3233" y="1568" width="1629" height="541" rx="28"/>
<text class="b" x="3262" y="1638" font-size="26" textLength="289" lengthAdjust="spacingAndGlyphs">User visits a website</text>
<text class="b" x="3699" y="1638" font-size="26" textLength="610" lengthAdjust="spacingAndGlyphs">Logged in or signed up data stored in sanity</text>
<text class="b" x="4441" y="1638" font-size="26" textLength="302" lengthAdjust="spacingAndGlyphs">Directed to HomePage</text>
<text class="b" x="3252" y="1713" font-size="26" textLength="344" lengthAdjust="spacingAndGlyphs">Homepage fetch products</text>
<text class="b" x="3252" y="1747" font-size="26" textLength="231" lengthAdjust="spacingAndGlyphs">data from sanity</text>
<text class="b" x="3686" y="1725" font-size="26" textLength="481" lengthAdjust="spacingAndGlyphs">Displays PRODUCTS On WEBPAGE</text>
<text class="b" x="4430" y="1723" font-size="26" textLength="421" lengthAdjust="spacingAndGlyphs">USER BROWSING PRODUCTS</text>
<text class="b" x="3278" y="1830" font-size="26" textLength="276" lengthAdjust="spacingAndGlyphs">user intereacts with</text>
<text class="b" x="3278" y="1864" font-size="26" textLength="240" lengthAdjust="spacingAndGlyphs">data/add to cart</text>
<text class="b" x="3730" y="1856" font-size="26" textLength="298" lengthAdjust="spacingAndGlyphs">Data stored in sanity</text>
<text class="b" x="4207" y="1854" font-size="26" textLength="284" lengthAdjust="spacingAndGlyphs">Proceed to checkout</text>
<text class="b" x="4653" y="1831" font-size="26" textLength="180" lengthAdjust="spacingAndGlyphs">Request sent</text>
<text class="b" x="4653" y="1866" font-size="26" textLength="161" lengthAdjust="spacingAndGlyphs">to Gateway</text>
<text class="b" x="4653" y="1899" font-size="26" textLength="37" lengthAdjust="spacingAndGlyphs">api</text>
<text class="b" x="3264" y="1959" font-size="26" textLength="445" lengthAdjust="spacingAndGlyphs">Order data sent to shipment api</text>
<text class="b" x="3818" y="1957" font-size="26" textLength="225" lengthAdjust="spacingAndGlyphs">Shipment Status</text>
<text class="b" x="4133" y="1959" font-size="26" textLength="218" lengthAdjust="spacingAndGlyphs">Stored in sanity</text>
<text class="r" x="4477" y="1955" font-size="26" textLength="204" lengthAdjust="spacingAndGlyphs">Data stored in</text>
<text class="r" x="4477" y="1989" font-size="26" textLength="81" lengthAdjust="spacingAndGlyphs">sanity</text>
<text class="b" x="3264" y="2048" font-size="26" textLength="293" lengthAdjust="spacingAndGlyphs">User Tracks shipment</text>
<text class="b" x="3712" y="2046" font-size="26" textLength="250" lengthAdjust="spacingAndGlyphs">Request to sanity</text>
<text class="b" x="4102" y="2052" font-size="26" textLength="341" lengthAdjust="spacingAndGlyphs">Display on accounts page</text>
</g>

<g id="connectors">
<path class="cw" d="M1268,778 C1700,785 1925,790 1937,930 L1941,1035" marker-end="url(#mw)"/>
<path class="cw" d="M589,1274 L674,1275" marker-end="url(#mw)"/>
<path class="cw" d="M1201,1258 L1394,1244" marker-end="url(#mw)"/>
<path class="cw" d="M1394,1500 L1287,1593" marker-end="url(#mw)"/>
<path class="cw" d="M1254,1748 L1396,1764" stroke-width="5" marker-end="url(#mw)"/>
<path class="cw" d="M1641,2062 L1641,2106" marker-end="url(#mw)"/>
<path class="cg" d="M1869,2006 L2151,2107" marker-end="url(#mg)"/>
<path class="cg" d="M2153,2138 L1692,2235" marker-end="url(#mg)"/>
<text class="w" x="1953" y="1973" font-size="20" transform="rotate(16 1953 1973)" textLength="190" lengthAdjust="spacingAndGlyphs">PAYMENT POST</text>
<text class="w" x="1946" y="2002" font-size="20" transform="rotate(16 1946 2002)" textLength="122" lengthAdjust="spacingAndGlyphs">REQUEST</text>
<text class="w" x="1738" y="2163" font-size="20" transform="rotate(-6 1738 2163)" textLength="285" lengthAdjust="spacingAndGlyphs">PAYMENT STATUS GET</text>
<text class="w" x="1741" y="2194" font-size="20" transform="rotate(-6 1741 2194)" textLength="122" lengthAdjust="spacingAndGlyphs">REQUEST</text>
<path class="cr" d="M1435,2079 L809,2200" stroke-width="5" marker-end="url(#mr)"/>
<text class="w" x="895" y="2212" font-size="24" transform="rotate(-11 895 2212)" textLength="340" lengthAdjust="spacingAndGlyphs">STORING ORDER DATA</text>
<path class="cr" d="M305,1500 C180,1555 62,1630 52,1770 C44,1900 80,2030 110,2140 L184,2444" marker-end="url(#mr)"/>
<text class="b" x="58" y="1630" font-size="28" transform="rotate(-28 58 1630)" textLength="245" lengthAdjust="spacingAndGlyphs">STORING USER INFO</text>
<path class="cw" d="M327,2131 C260,2080 238,2040 236,1990 L237,1911" stroke-width="4.5" marker-end="url(#mw)"/>
<text class="w" x="124" y="1983" font-size="19" textLength="95" lengthAdjust="spacingAndGlyphs">DELIVERY</text>
<text class="w" x="124" y="2006" font-size="19" textLength="77" lengthAdjust="spacingAndGlyphs">STATUS</text>
<text class="w" x="124" y="2029" font-size="19" textLength="53" lengthAdjust="spacingAndGlyphs">FROM</text>
<text class="w" x="124" y="2053" font-size="19" textLength="99" lengthAdjust="spacingAndGlyphs">SHIPMENT</text>
<text class="w" x="124" y="2076" font-size="19" textLength="100" lengthAdjust="spacingAndGlyphs">TRACKING</text>
<path class="cr" d="M425,2124 L424,2040 C420,1980 390,1945 368,1908" stroke-width="5" marker-end="url(#mr)"/>
<text class="r" x="301" y="2002" font-size="19" textLength="97" lengthAdjust="spacingAndGlyphs">GETTING</text>
<text class="r" x="299" y="2026" font-size="19" textLength="52" lengthAdjust="spacingAndGlyphs">USER</text>
<text class="r" x="298" y="2050" font-size="19" textLength="51" lengthAdjust="spacingAndGlyphs">DATA</text>
<path class="cr" d="M412,1897 L477,2114" stroke-width="5" marker-end="url(#mr)"/>
<text class="r" x="452" y="1933" font-size="19" textLength="101" lengthAdjust="spacingAndGlyphs">POSTING</text>
<text class="r" x="450" y="1959" font-size="19" textLength="90" lengthAdjust="spacingAndGlyphs">EDITED</text>
<text class="r" x="449" y="1984" font-size="19" textLength="122" lengthAdjust="spacingAndGlyphs">USER DATA</text>
<path class="cb" d="M685,2129 L770,1990" marker-end="url(#mb)"/>
<text class="b" x="603" y="2063" font-size="17" textLength="91" lengthAdjust="spacingAndGlyphs">GETTING</text>
<text class="b" x="603" y="2086" font-size="17" textLength="107" lengthAdjust="spacingAndGlyphs">CART DATA</text>
<path class="cb" d="M828,2013 L769,2124" marker-end="url(#mb)"/>
<text class="b" x="832" y="2042" font-size="17" textLength="108" lengthAdjust="spacingAndGlyphs">REQUESTIN</text>
<text class="b" x="832" y="2064" font-size="17" textLength="69" lengthAdjust="spacingAndGlyphs">G CART</text>
<text class="b" x="832" y="2085" font-size="17" textLength="47" lengthAdjust="spacingAndGlyphs">DATA</text>
<path class="cb" d="M2779,1930 C2830,2150 2850,2330 2820,2420 C2760,2520 2450,2540 2140,2535 C1700,2548 1200,2550 819,2552" stroke-width="6" marker-end="url(#mbt)"/>
<text class="w" x="1463" y="2512" font-size="25" textLength="852" lengthAdjust="spacingAndGlyphs">GETTING SIPMENT STATUS AND STORING IT IN SANITY</text>
<path class="cb" d="M801,2620 C1300,2640 1700,2700 2140,2662 C2600,2640 2940,2600 2962,2440 C2975,2300 2870,2100 2785,1886" stroke-width="6" marker-end="url(#mbt)"/>
<text class="w" x="1653" y="2626" font-size="25" textLength="623" lengthAdjust="spacingAndGlyphs">SENDING ORDER DATA TO SHIPMENT API</text>
<path class="cg" d="M2296,725 L2372,725" marker-end="url(#mg)"/>
<path class="cg" d="M2205,853 L2321,853" marker-end="url(#mg)"/>
<path class="cg" d="M2278,994 L2369,994" marker-end="url(#mg)"/>
<path class="cb" d="M3557,1633 L3686,1632" stroke-width="5.5" marker-end="url(#mbt)"/>
<path class="cb" d="M4314,1634 L4423,1634" stroke-width="5.5" marker-end="url(#mbt)"/>
<path class="cb" d="M3617,1703 C3622,1722 3640,1725 3670,1723" stroke-width="5.5" marker-end="url(#mbt)"/>
<path class="cb" d="M4172,1715 L4412,1715" stroke-width="5.5" marker-end="url(#mbt)"/>
<path class="cb" d="M3583,1848 L3707,1844" stroke-width="5.5" marker-end="url(#mbt)"/>
<path class="cb" d="M4041,1850 L4181,1847" stroke-width="5.5" marker-end="url(#mbt)"/>
<path class="cb" d="M4509,1851 L4633,1845" stroke-width="5.5" marker-end="url(#mbt)"/>
<path class="cb" d="M3730,1953 L3802,1951" stroke-width="5.5" marker-end="url(#mbt)"/>
<path class="cb" d="M4051,1957 L4112,1959" stroke-width="5.5" marker-end="url(#mbt)"/>
<path class="cg" d="M4378,1889 L4381,1935 C4384,1955 4420,1962 4458,1963" stroke-width="4.5" marker-end="url(#mg)"/>
<path class="cg" d="M4804,1910 C4815,1940 4822,1962 4790,1968 L4685,1976" stroke-width="6" marker-end="url(#mg)"/>
<path class="cb" d="M3573,2045 L3697,2045" stroke-width="5.5" marker-end="url(#mbt)"/>
<path class="cb" d="M3967,2044 L4089,2048" stroke-width="5.5" marker-end="url(#mbt)"/>
</g>
</g>
</svg>
